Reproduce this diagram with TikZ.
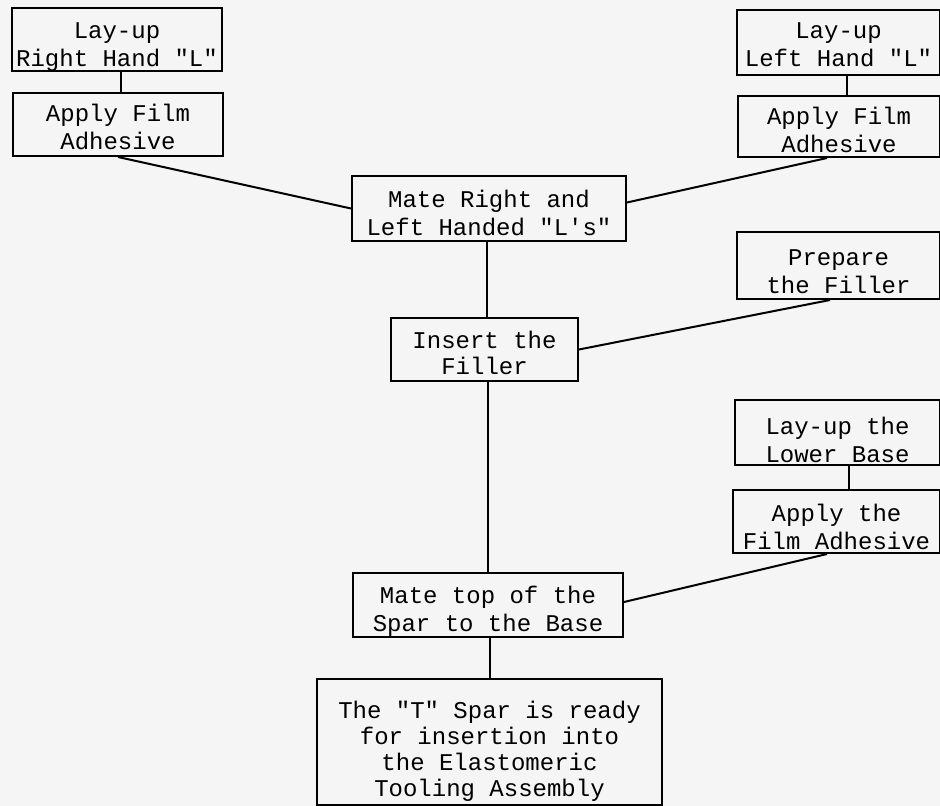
\documentclass[tikz,border=0pt]{standalone}
\usepackage{fontspec}
\setmonofont{Liberation Mono}
\begin{document}
\begin{tikzpicture}[x=0.5pt,y=-0.5pt,
  box/.style={draw,line width=1pt,inner sep=0pt},
  words/.style={align=center,inner sep=0pt,
    font=\ttfamily\fontsize{12}{14}\selectfont},
  link/.style={line width=1pt}]
\useasboundingbox[fill=black!4] (0,0) rectangle (940,806);
% left branch
\node [box,minimum width=105pt,minimum height=31.5pt,
  label={[words,yshift=-4pt]center:Lay-up\\Right Hand "L"}] (layR) at (117,39.5) {};
\node [box,minimum width=105pt,minimum height=31.5pt,
  label={[words,yshift=-1pt]center:Apply Film\\Adhesive}] (filmR) at (118,124.5) {};
% right branch
\node [box,minimum width=101.5pt,minimum height=32.5pt,
  label={[words,yshift=-1pt]center:Lay-up\\Left Hand "L"}] (layL) at (838.5,42.5) {};
\node [box,minimum width=101pt,minimum height=30.5pt,
  label={[words,yshift=-1.75pt]center:Apply Film\\Adhesive}] (filmL) at (839,126.5) {};
\node [box,minimum width=101.5pt,minimum height=33.5pt,
  label={[words,yshift=-3.25pt]center:Prepare\\the Filler}] (prep) at (838.5,265.5) {};
\node [box,minimum width=102.5pt,minimum height=32.5pt,
  label={[words,yshift=-3.5pt]center:Lay-up the\\Lower Base}] (layB) at (837.5,432.5) {};
\node [box,minimum width=103.5pt,minimum height=31.5pt,
  label={[words,yshift=-2.5pt]center:Apply the\\Film Adhesive}] (filmB) at (836.5,521.5) {};
% main line
\node [box,minimum width=137pt,minimum height=32.5pt,
  label={[words,yshift=-2pt]center:Mate Right and\\Left Handed "L's"}] (mate) at (489,208.5) {};
\node [box,minimum width=93.5pt,minimum height=31.5pt,
  label={[words,font=\ttfamily\fontsize{12}{13}\selectfont,yshift=-1.5pt]center:Insert the\\Filler}] (insert) at (484.5,349.5) {};
\node [box,minimum width=135pt,minimum height=32pt,
  label={[words,yshift=-3pt]center:Mate top of the\\Spar to the Base}] (mateB) at (488,605) {};
\node [box,minimum width=172.5pt,minimum height=63pt,
  label={[words,font=\ttfamily\fontsize{12}{13}\selectfont,yshift=-4.5pt]center:The "T" Spar is ready\\for insertion into\\the Elastomeric\\Tooling Assembly}] (ready) at (489.5,742) {};
% connectors
\draw [link] ([xshift=2pt]layR.south) -- ([xshift=2pt]layR.south |- filmR.north);
\draw [link] ([xshift=4.25pt]layL.south) -- ([xshift=4.25pt]layL.south |- filmL.north);
\draw [link] ([xshift=5.75pt]layB.south) -- ([xshift=5.75pt]layB.south |- filmB.north);
\draw [link] (filmR.south) -- (mate.west);
\draw [link] ([xshift=-6pt]filmL.south) -- ([yshift=3pt]mate.east);
\draw [link] ([xshift=-1pt]mate.south) -- ([xshift=-1pt]mate.south |- insert.north);
\draw [link] ([xshift=-4.25pt]prep.south) -- (insert.east);
\draw [link] (mateB.north) -- (mateB.north |- insert.south);
\draw [link] ([xshift=-4.75pt]filmB.south) -- ([yshift=1.5pt]mateB.east);
\draw [link] ([xshift=1pt]mateB.south) -- ([xshift=1pt]mateB.south |- ready.north);
\end{tikzpicture}
\end{document}
